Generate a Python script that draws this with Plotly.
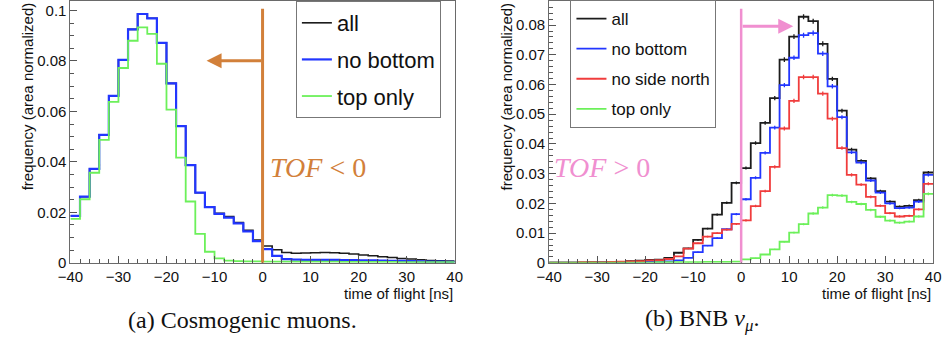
import numpy as np
import plotly.graph_objects as go

# Bin edges shared by every histogram: 2 ns bins from -40 to 40 ns
bin_lo = list(range(-40, 40, 2))
x_edges = list(range(-40, 42, 2))

# (a) Cosmogenic muons
cosmic_all = [0.0186, 0.0262, 0.0372, 0.0507, 0.0662, 0.0804, 0.0925, 0.0986, 0.0969, 0.0872,
              0.0711, 0.0542, 0.0387, 0.0278, 0.0221, 0.0196, 0.0183, 0.0160, 0.0129, 0.0090,
              0.0067, 0.0052, 0.0041, 0.0038, 0.0039, 0.0040, 0.0041, 0.0040, 0.0038, 0.0035,
              0.0031, 0.0028, 0.0024, 0.0021, 0.0017, 0.0015, 0.0012, 0.0009, 0.0008, 0.0007]
cosmic_no_bottom = [0.0186, 0.0262, 0.0372, 0.0507, 0.0662, 0.0804, 0.0925, 0.0986, 0.0969, 0.0872,
                    0.0711, 0.0542, 0.0387, 0.0278, 0.0221, 0.0194, 0.0179, 0.0156, 0.0125, 0.0086,
                    0.0054, 0.0028, 0.0015, 0.0013, 0.0012, 0.0012, 0.0012, 0.0012, 0.0011, 0.0011,
                    0.0010, 0.0010, 0.0009, 0.0008, 0.0008, 0.0007, 0.0006, 0.0005, 0.0005, 0.0004]
cosmic_top_only = [0.0174, 0.0252, 0.0357, 0.0487, 0.0638, 0.0772, 0.0880, 0.0933, 0.0907, 0.0789,
                   0.0607, 0.0417, 0.0243, 0.0115, 0.0044, 0.0018, 0.0009, 0.0007, 0.0006, 0.0006,
                   0.0005, 0.0005, 0.0005, 0.0005, 0.0005, 0.0005, 0.0005, 0.0005, 0.0004, 0.0004,
                   0.0004, 0.0004, 0.0004, 0.0004, 0.0003, 0.0003, 0.0003, 0.0003, 0.0003, 0.0003]

# (b) BNB nu_mu
bnb_all = [0.0001, 0.0001, 0.0001, 0.0001, 0.0002, 0.0002, 0.0002, 0.0003, 0.0006, 0.0007,
           0.0010, 0.0011, 0.0017, 0.0034, 0.0049, 0.0077, 0.0115, 0.0162, 0.0202, 0.0269,
           0.0319, 0.0403, 0.0471, 0.0554, 0.0684, 0.0761, 0.0828, 0.0813, 0.0737, 0.0619,
           0.0512, 0.0381, 0.0343, 0.0284, 0.0241, 0.0206, 0.0189, 0.0192, 0.0211, 0.0304]
bnb_no_bottom = [0.0001, 0.0001, 0.0001, 0.0001, 0.0001, 0.0002, 0.0002, 0.0002, 0.0003, 0.0003,
                 0.0004, 0.0004, 0.0005, 0.0008, 0.0017, 0.0036, 0.0058, 0.0083, 0.0113, 0.0164,
                 0.0214, 0.0286, 0.0370, 0.0455, 0.0598, 0.0690, 0.0766, 0.0773, 0.0704, 0.0594,
                 0.0490, 0.0372, 0.0337, 0.0277, 0.0236, 0.0200, 0.0184, 0.0186, 0.0206, 0.0296]
bnb_no_side_north = [0.0001, 0.0001, 0.0001, 0.0002, 0.0002, 0.0002, 0.0003, 0.0004, 0.0005, 0.0006,
                     0.0008, 0.0009, 0.0013, 0.0022, 0.0048, 0.0066, 0.0088, 0.0100, 0.0112, 0.0131,
                     0.0143, 0.0191, 0.0241, 0.0323, 0.0452, 0.0545, 0.0625, 0.0625, 0.0569, 0.0485,
                     0.0386, 0.0296, 0.0263, 0.0222, 0.0192, 0.0167, 0.0156, 0.0158, 0.0180, 0.0266]
bnb_top_only = [0.0001, 0.0001, 0.0001, 0.0001, 0.0001, 0.0001, 0.0001, 0.0001, 0.0001, 0.0001,
                0.0001, 0.0002, 0.0002, 0.0002, 0.0002, 0.0002, 0.0003, 0.0003, 0.0003, 0.0004,
                0.0012, 0.0016, 0.0028, 0.0045, 0.0071, 0.0102, 0.0130, 0.0166, 0.0186, 0.0228,
                0.0226, 0.0205, 0.0198, 0.0178, 0.0155, 0.0142, 0.0135, 0.0139, 0.0156, 0.0232]

BLACK = "#1c1c1c"
BLUE = "#2236ff"
RED = "#f03c3c"
GREEN = "#6cf05a"
ORANGE = "#d2803a"
PINK = "#f08fd0"

SANS = "Liberation Sans, Arial, sans-serif"
SERIF = "Liberation Serif, Times New Roman, serif"

fig = go.Figure()


def step_trace(values, name, color, xa, ya, legend, width):
    # histogram outline: repeat last bin so the final step reaches the upper edge
    return go.Scatter(x=x_edges, y=list(values) + [values[-1]], mode="lines",
                      line=dict(shape="hv", color=color, width=width),
                      name=name, xaxis=xa, yaxis=ya, legend=legend,
                      legendgroup=legend + name, hoverinfo="skip")


cosmic = [("all", cosmic_all, BLACK, 1.6),
          ("no bottom", cosmic_no_bottom, BLUE, 2.2),
          ("top only", cosmic_top_only, GREEN, 1.8)]
for name, vals, col, w in cosmic:
    fig.add_trace(step_trace(vals, name, col, "x", "y", "legend", w))

bnb = [("all", bnb_all, BLACK),
       ("no bottom", bnb_no_bottom, BLUE),
       ("no side north", bnb_no_side_north, RED),
       ("top only", bnb_top_only, GREEN)]
centers = [b + 1 for b in bin_lo]
for name, vals, col in bnb:
    fig.add_trace(step_trace(vals, name, col, "x2", "y2", "legend2", 1.8))
    # statistical uncertainty bars at the bin centres
    err = (np.sqrt(np.array(vals)) * 0.003).tolist()
    fig.add_trace(go.Scatter(x=centers, y=vals, mode="markers",
                             marker=dict(size=1, color=col, opacity=0),
                             error_y=dict(type="data", array=err, visible=True,
                                          color=col, thickness=1.3, width=0),
                             xaxis="x2", yaxis="y2", showlegend=False, hoverinfo="skip"))

ydom = [0.2292, 0.9971]
axis_common = dict(showline=True, mirror=True, linecolor="#6a6a6a", linewidth=1,
                   ticks="inside", ticklen=7, tickwidth=1, tickcolor="#555",
                   showgrid=False, zeroline=False,
                   tickfont=dict(family=SANS, size=15, color="#111"))
xaxis_common = dict(axis_common, range=[-40, 40], dtick=10, tick0=0,
                    minor=dict(dtick=2, ticks="inside", ticklen=4, tickcolor="#555"))

fig.update_layout(
    width=947, height=349,
    margin=dict(l=0, r=0, t=0, b=0),
    paper_bgcolor="white", plot_bgcolor="white",
    xaxis=dict(xaxis_common, domain=[0.0620, 0.4770], anchor="y"),
    yaxis=dict(axis_common, domain=ydom, range=[0, 0.10376], dtick=0.02, anchor="x",
               minor=dict(dtick=0.005, ticks="inside", ticklen=4, tickcolor="#555")),
    xaxis2=dict(xaxis_common, domain=[0.5790, 0.9937], anchor="y2"),
    yaxis2=dict(axis_common, domain=ydom, range=[0, 0.0881], dtick=0.01, anchor="x2",
                minor=dict(dtick=0.002, ticks="inside", ticklen=4, tickcolor="#555")),
    legend=dict(x=0.3055, y=0.997, xanchor="left", yanchor="top",
                bordercolor="#777", borderwidth=1, bgcolor="white",
                font=dict(family=SANS, size=22, color="#111"),
                tracegroupgap=5, traceorder="grouped"),
    legend2=dict(x=0.6020, y=1.0, xanchor="left", yanchor="top",
                 bordercolor="#777", borderwidth=1, bgcolor="white",
                 font=dict(family=SANS, size=17, color="#111"),
                 tracegroupgap=5, traceorder="grouped"),
)

# TOF = 0 cut lines
fig.add_shape(type="line", xref="x", yref="y", x0=0, x1=0, y0=0, y1=0.1007,
              line=dict(color=ORANGE, width=3))
fig.add_shape(type="line", xref="x2", yref="y2", x0=0, x1=0, y0=0, y1=0.0855,
              line=dict(color=PINK, width=2.5))

# direction arrows
fig.add_annotation(x=-11.65, y=0.0801, ax=0, ay=0.0801, xref="x", yref="y",
                   axref="x", ayref="y", text="", showarrow=True,
                   arrowhead=2, arrowsize=1, arrowwidth=3, arrowcolor=ORANGE)
fig.add_annotation(x=10.85, y=0.0796, ax=0, ay=0.0796, xref="x2", yref="y2",
                   axref="x2", ayref="y2", text="", showarrow=True,
                   arrowhead=2, arrowsize=1, arrowwidth=3, arrowcolor=PINK)

fig.add_annotation(x=1.2, y=0.0376, xref="x", yref="y", xanchor="left", yanchor="middle",
                   text="<i>TOF</i> &lt; 0", showarrow=False,
                   font=dict(family=SERIF, size=28, color=ORANGE))
fig.add_annotation(x=-39.4, y=0.032, xref="x2", yref="y2", xanchor="left", yanchor="middle",
                   text="<i>TOF</i> &gt; 0", showarrow=False,
                   font=dict(family=SERIF, size=28, color=PINK))

# axis titles
for xp in (15 / 947, 505 / 947):
    fig.add_annotation(x=xp, y=0.998, xref="paper", yref="paper", xanchor="center", yanchor="top",
                       text="frequency (area normalized)", textangle=-90, showarrow=False,
                       font=dict(family=SANS, size=15, color="#111"))
for xp in (0.4770, 0.9937):
    fig.add_annotation(x=xp, y=(349 - 300) / 349, xref="paper", yref="paper",
                       xanchor="right", yanchor="middle", text="time of flight [ns]",
                       showarrow=False, font=dict(family=SANS, size=15, color="#111"))

# sub-figure captions
fig.add_annotation(x=235 / 947, y=(349 - 327) / 349, xref="paper", yref="paper",
                   xanchor="center", yanchor="middle", text="(a) Cosmogenic muons.",
                   showarrow=False, font=dict(family=SERIF, size=24, color="#111"))
fig.add_annotation(x=705 / 947, y=(349 - 327) / 349, xref="paper", yref="paper",
                   xanchor="center", yanchor="middle",
                   text="(b) BNB <i>ν</i><sub><i>μ</i></sub>.",
                   showarrow=False, font=dict(family=SERIF, size=24, color="#111"))

fig.write_html("out.html")
